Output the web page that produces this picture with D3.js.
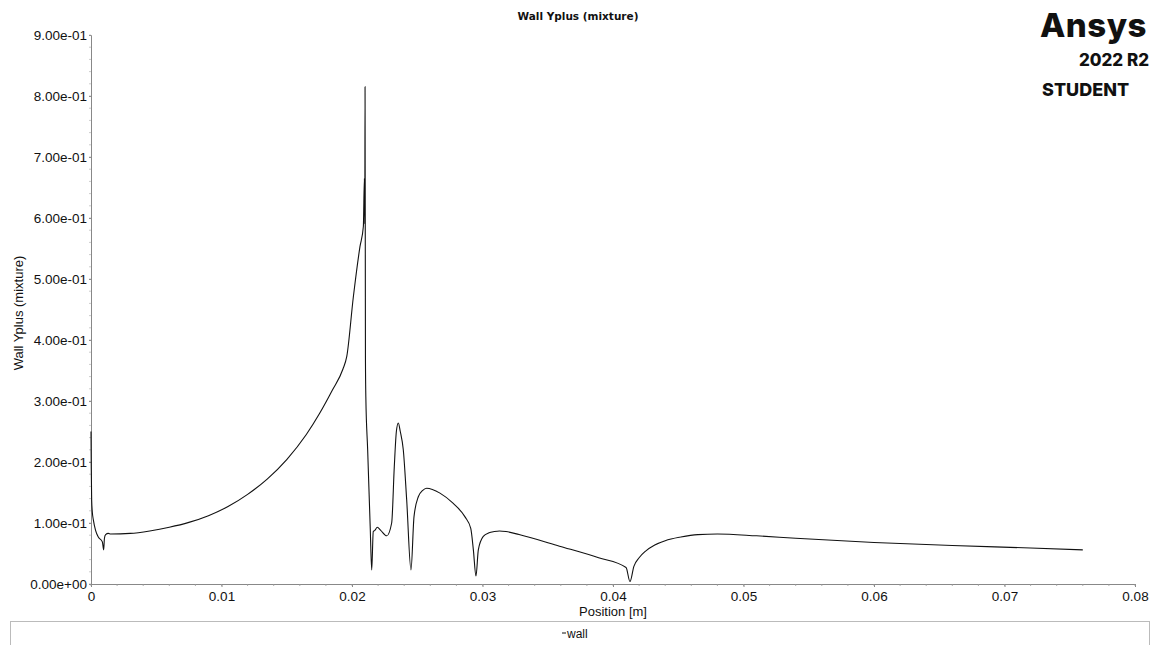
<!DOCTYPE html>
<html>
<head>
<meta charset="utf-8">
<script src="https://cdn.jsdelivr.net/npm/d3@7"></script>
<style>
  html, body { margin: 0; padding: 0; background: #fff; }
  svg { display: block; }
  text { font-family: "Liberation Sans", Arial, sans-serif; fill: #111; }
</style>
</head>
<body>
<svg id="chart" width="1156" height="645"></svg>
<script>
// ---- data ----
const chartTitle = "Wall Yplus (mixture)";
const xAxisTitle = "Position [m]";
const yAxisTitle = "Wall Yplus (mixture)";
const seriesName = "wall";
const xTicks = [0, 0.01, 0.02, 0.03, 0.04, 0.05, 0.06, 0.07, 0.08];
const xTickLabels = ["0", "0.01", "0.02", "0.03", "0.04", "0.05", "0.06", "0.07", "0.08"];
const yTicks = [0, 0.1, 0.2, 0.3, 0.4, 0.5, 0.6, 0.7, 0.8, 0.9];
const yTickLabels = ["0.00e+00", "1.00e-01", "2.00e-01", "3.00e-01", "4.00e-01", "5.00e-01", "6.00e-01", "7.00e-01", "8.00e-01", "9.00e-01"];

const position = [
  0, 0.00002, 0.00005, 0.0001, 0.00018, 0.00035, 0.00056, 0.00087, 0.00097, 0.00103,
  0.00112, 0.00133, 0.0015, 0.003, 0.0045, 0.006, 0.0075, 0.009, 0.0105, 0.012,
  0.0135, 0.015, 0.0165, 0.0175, 0.0185, 0.0193, 0.0196, 0.0201, 0.02061, 0.02087,
  0.02095, 0.02098, 0.021, 0.02103, 0.02106, 0.0212, 0.0214, 0.02151, 0.02163, 0.02175,
  0.02194, 0.0222, 0.02266, 0.02304, 0.02324, 0.0234, 0.02355, 0.0237, 0.02393, 0.02419,
  0.02452, 0.02475, 0.02508, 0.0254, 0.02572, 0.02674, 0.02776, 0.02866, 0.0291, 0.0293,
  0.0295, 0.02968, 0.03006, 0.0305, 0.0309, 0.0313, 0.0318, 0.0328, 0.0359, 0.0389,
  0.041, 0.0413, 0.0416, 0.042, 0.0425, 0.0432, 0.044, 0.0452, 0.0465, 0.048,
  0.051, 0.054, 0.06, 0.066, 0.072, 0.076
];
const yplus = [
  0.25, 0.19, 0.138, 0.118, 0.105, 0.088, 0.077, 0.069, 0.056, 0.075,
  0.081, 0.083, 0.082, 0.083, 0.087, 0.093, 0.101, 0.112, 0.127, 0.147,
  0.172, 0.204, 0.245, 0.279, 0.318, 0.352, 0.373, 0.47, 0.553, 0.586,
  0.665, 0.59, 0.815, 0.37, 0.307, 0.22, 0.09, 0.023, 0.086, 0.088,
  0.093, 0.088, 0.079, 0.1, 0.192, 0.25, 0.264, 0.25, 0.22, 0.138,
  0.023, 0.11, 0.143, 0.153, 0.157, 0.149, 0.132, 0.11, 0.091, 0.056,
  0.013, 0.056, 0.078, 0.084, 0.086, 0.087, 0.086, 0.081, 0.062, 0.043,
  0.027, 0.004, 0.029, 0.043, 0.054, 0.064, 0.071, 0.077, 0.081, 0.082,
  0.079, 0.075, 0.068, 0.063, 0.059, 0.056
];

// ---- layout ----
const svg = d3.select("#chart");
const plot = { left: 91, right: 1135, top: 35, bottom: 584 };

const x = d3.scaleLinear().domain([0, 0.08]).range([plot.left, plot.right]);
const y = d3.scaleLinear().domain([0, 0.9]).range([plot.bottom, plot.top]);

// Title
svg.append("text")
  .attr("x", 578).attr("y", 20)
  .attr("text-anchor", "middle")
  .style("font-family", "'DejaVu Sans', sans-serif")
  .style("font-size", "10.5px").style("font-weight", "bold")
  .text(chartTitle);

// Logo
const logo = svg.append("g");
logo.append("text").attr("x", 1147).attr("y", 37)
  .attr("text-anchor", "end")
  .style("font-family", "Inter, sans-serif")
  .style("font-size", "33px").style("font-weight", "800").style("letter-spacing", "0.5px")
  .text("Ansys");
logo.append("text").attr("x", 1149).attr("y", 66)
  .attr("text-anchor", "end")
  .style("font-family", "Inter, sans-serif")
  .style("font-size", "17px").style("font-weight", "800")
  .text("2022 R2");
logo.append("text").attr("x", 1042).attr("y", 96)
  .style("font-family", "Inter, sans-serif")
  .style("font-size", "18px").style("font-weight", "800")
  .text("STUDENT");

// X axis
const xAxis = d3.axisBottom(x)
  .tickValues(xTicks)
  .tickFormat((d, i) => xTickLabels[i])
  .tickSize(3).tickPadding(4);
const gx = svg.append("g").attr("transform", `translate(0,${plot.bottom})`).call(xAxis);
gx.select(".domain").attr("stroke", "#888");
gx.selectAll(".tick line").attr("stroke", "#888");
gx.selectAll(".tick text").style("font-size", "13.5px").style("font-family", "'Liberation Sans', Arial, sans-serif").attr("fill", "#111");

// minor x ticks
svg.append("g").selectAll("line")
  .data(d3.range(0, 0.0801, 0.002))
  .join("line")
  .attr("x1", d => x(d)).attr("x2", d => x(d))
  .attr("y1", plot.bottom).attr("y2", plot.bottom + 2)
  .attr("stroke", "#999").attr("stroke-width", 0.8);

// Y axis
const yAxis = d3.axisLeft(y)
  .tickValues(yTicks)
  .tickFormat((d, i) => yTickLabels[i])
  .tickSize(2).tickPadding(2);
const gy = svg.append("g").attr("transform", `translate(${plot.left},0)`).call(yAxis);
gy.select(".domain").attr("stroke", "#888");
gy.selectAll(".tick line").attr("stroke", "#888");
gy.selectAll(".tick text").style("font-size", "13.5px").style("font-family", "'Liberation Sans', Arial, sans-serif").attr("fill", "#111");

// minor y ticks
svg.append("g").selectAll("line")
  .data(d3.range(0, 0.901, 0.02))
  .join("line")
  .attr("x1", plot.left - 2).attr("x2", plot.left)
  .attr("y1", d => y(d)).attr("y2", d => y(d))
  .attr("stroke", "#aaa").attr("stroke-width", 0.6);

// Axis titles
svg.append("text")
  .attr("x", 613).attr("y", 616)
  .attr("text-anchor", "middle")
  .style("font-size", "13px")
  .text(xAxisTitle);

svg.append("text")
  .attr("transform", `translate(23,313) rotate(-90)`)
  .attr("text-anchor", "middle")
  .style("font-size", "13px")
  .text(yAxisTitle);

// Data line
const data = position.map((p, i) => ({ p, v: yplus[i] }));
const line = d3.line()
  .x(d => x(d.p))
  .y(d => y(d.v))
  .curve(d3.curveMonotoneX);

svg.append("path")
  .datum(data)
  .attr("fill", "none")
  .attr("stroke", "#111")
  .attr("stroke-width", 1.1)
  .attr("d", line);

// Legend
svg.append("rect")
  .attr("x", 10.5).attr("y", 621.5)
  .attr("width", 1139).attr("height", 40)
  .attr("fill", "none").attr("stroke", "#bbb");
svg.append("line")
  .attr("x1", 562).attr("x2", 566)
  .attr("y1", 633).attr("y2", 633)
  .attr("stroke", "#111");
svg.append("text")
  .attr("x", 567).attr("y", 637.5)
  .style("font-size", "12px")
  .text(seriesName);
</script>
</body>
</html>
